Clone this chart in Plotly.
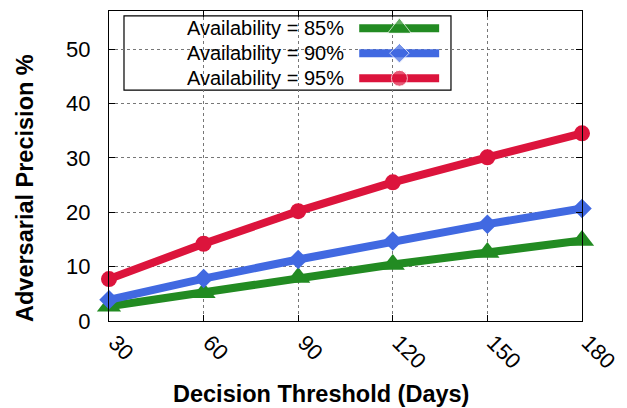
import plotly.graph_objects as go

thresholds = [30, 60, 90, 120, 150, 180]
avail_85 = [2.7, 5.2, 8.0, 10.4, 12.6, 14.8]
avail_90 = [3.9, 7.8, 11.3, 14.7, 17.8, 20.7]
avail_95 = [7.7, 14.2, 20.2, 25.5, 30.1, 34.5]
series_names = ["Availability = 85%", "Availability = 90%", "Availability = 95%"]
x_ticks = [30, 60, 90, 120, 150, 180]
y_ticks = [0, 10, 20, 30, 40, 50]

colors = ["#228B22", "#4169E1", "#DC143C"]
symbols = ["triangle-up", "diamond", "circle"]
msizes = [21, 15, 16]
FONT = "Liberation Sans, Arial, Helvetica, sans-serif"

fig = go.Figure()
for vals, c, s, ms, name in zip([avail_85, avail_90, avail_95], colors, symbols, msizes, series_names):
    fig.add_trace(go.Scatter(
        x=thresholds, y=vals, mode="lines+markers", name=name,
        line=dict(color=c, width=8), marker=dict(symbol=s, size=ms, color=c),
        cliponaxis=False, showlegend=False))

# custom gnuplot-style legend (text left, sample right)
rows = [0.944, 0.864, 0.783]
lx0, lxm, lx1 = 0.529, 0.614, 0.698
for c, s, ms, name, ry in zip(colors, symbols, msizes, series_names, rows):
    fig.add_trace(go.Scatter(
        x=[lx0, lxm, lx1], y=[ry, ry, ry], xaxis="x2", yaxis="y2",
        mode="lines+markers", line=dict(color=c, width=8),
        marker=dict(symbol=s, size=[0, ms, 0], color=c),
        cliponaxis=False, showlegend=False, hoverinfo="skip"))
    fig.add_annotation(x=0.501, y=ry, xref="paper", yref="paper", text=name,
                       showarrow=False, xanchor="right", yanchor="middle",
                       font=dict(family=FONT, size=20, color="black"))
fig.add_shape(type="rect", xref="paper", yref="paper", x0=0.0317, x1=0.723,
              y0=0.745, y1=0.984, line=dict(color="black", width=1.2), fillcolor="white", layer="between")

fig.add_annotation(x=0.449, y=-0.2355, xref="paper", yref="paper",
                   text="<b>Decision Threshold (Days)</b>", showarrow=False,
                   xanchor="center", yanchor="middle", font=dict(family=FONT, size=23.5, color="black"))
fig.add_annotation(x=-0.1776, y=0.429, xref="paper", yref="paper",
                   text="<b>Adversarial Precision %</b>", showarrow=False, textangle=-90,
                   xanchor="center", yanchor="middle", font=dict(family=FONT, size=23.5, color="black"))

axis_common = dict(showline=True, linecolor="black", linewidth=1.2, mirror="ticks",
                   ticks="inside", ticklen=6, tickcolor="black", tickwidth=1,
                   showgrid=True, gridcolor="#777777", griddash="dot", gridwidth=1,
                   zeroline=False, automargin=False, ticklabeloverflow="allow",
                   tickfont=dict(family=FONT, size=22, color="black"))

# page body has an 8px default margin, so the figure is sized/offset to compensate
fig.update_layout(
    width=619, height=400,
    margin=dict(l=101, r=45, t=3, b=87),
    paper_bgcolor="white", plot_bgcolor="white",
    xaxis=dict(range=[30, 180], tickvals=x_ticks, ticktext=[str(v) for v in x_ticks],
               tickangle=45, ticklabelshift=6, ticklabelstandoff=-1, **axis_common),
    yaxis=dict(range=[0, 57], tickvals=y_ticks, ticklabelstandoff=13, **axis_common),
    xaxis2=dict(overlaying="x", range=[0, 1], visible=False, fixedrange=True),
    yaxis2=dict(overlaying="y", range=[0, 1], visible=False, fixedrange=True),
    showlegend=False,
)
fig.write_html("out.html")
